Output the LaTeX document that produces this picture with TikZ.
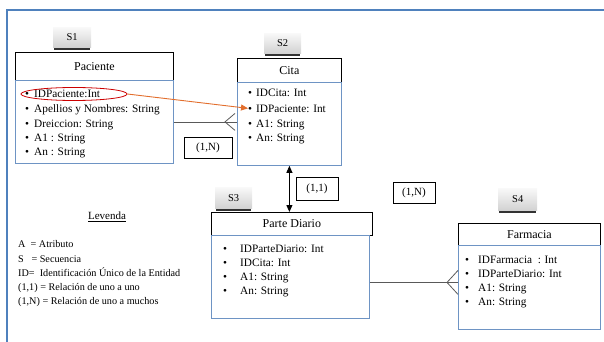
\documentclass[tikz,border=0pt]{standalone}
\usepackage{fontspec}
\setmainfont{Liberation Serif}
\usetikzlibrary{calc,shadows,arrows.meta,shapes.geometric}
\definecolor{framebl}{RGB}{79,129,189}
\definecolor{bodybl}{RGB}{110,148,196}
\definecolor{linkor}{RGB}{226,110,45}
\def\blt#1#2{\makebox[#1][l]{\textbullet}#2}

\tikzset{
  entity/.style={draw=black, line width=0.8pt, fill=white, anchor=north west, inner sep=0pt, font=\fontsize{12}{14}\selectfont},
  attrs/.style={draw=bodybl, line width=0.8pt, anchor=north west, inner sep=0pt},
  attr/.style={anchor=base west, inner sep=0pt, font=\fontsize{11.3}{13}\selectfont},
  seqtab/.style={anchor=north west, inner sep=0pt, top color=gray!5, bottom color=gray!35, font=\fontsize{10.5}{12}\selectfont,
    drop shadow={shadow xshift=0pt, shadow yshift=-3.5pt, shadow scale=0.95, fill=black!80, opacity=1}},
  card/.style={draw=black, line width=0.8pt, fill=white, inner sep=0pt, font=\fontsize{11}{13}\selectfont},
  link/.style={draw=black!65, line width=0.8pt},
  tip/.style={-{Triangle[length=7pt,width=6pt]}},
  legtxt/.style={anchor=base west, inner sep=0pt, font=\fontsize{10.2}{13}\selectfont},
}

\begin{document}
\begin{tikzpicture}[x=1pt,y=-1pt]
			\useasboundingbox (0,0) rectangle (604,342);
			
			\draw[framebl, line width=1.2pt] (7,10) rectangle (620,360);
			
			%%%%% Paciente %%%%%
			\node[seqtab, minimum width=38, minimum height=20] (s1) at (53,27) {S1};
			\node[entity, minimum width=158, minimum height=28] (pac) at (15,52) {Paciente};
			\node[attrs, minimum width=158, minimum height=83] (pacB) at (15,80) {};
			\node[attr] (pac1) at (25,98) {\blt{9pt}{IDPaciente:Int}};
			\node[attr] (pac2) at (25,113) {\blt{9pt}{Apellios y Nombres: String}};
			\node[attr] (pac3) at (25,127) {\blt{9pt}{Dreiccion: String}};
			\node[attr] (pac4) at (25,141) {\blt{9pt}{A1 : String}};
			\node[attr] (pac5) at (25,155) {\blt{9pt}{An : String}};
			\node[draw=red!80!black, line width=0.8pt, ellipse, minimum width=106, minimum height=13] (pacOval) at (74,94) {};
			
			%%%%% Cita %%%%%
			\node[seqtab, minimum width=37, minimum height=20] (s2) at (264,33) {S2};
			\node[entity, minimum width=104, minimum height=24] (cita) at (237,58) {Cita};
			\node[attrs, minimum width=104, minimum height=83] (citaB) at (237,82) {};
			\node[attr] (cita1) at (248,97) {\blt{8pt}{IDCita: Int}};
			\node[attr] (cita2) at (248,112) {\blt{8pt}{IDPaciente: Int}};
			\node[attr] (cita3) at (248,127) {\blt{8pt}{A1: String}};
			\node[attr] (cita4) at (248,141) {\blt{8pt}{An: String}};
			
			%%%%% Parte Diario %%%%%
			\node[seqtab, minimum width=37, minimum height=21] (s3) at (215,187) {S3};
			\node[entity, minimum width=161, minimum height=23] (par) at (211,212) {Parte Diario};
			\node[attrs, minimum width=158, minimum height=83] (parB) at (211,235) {};
			\node[attr] (par1) at (223,252) {\blt{17pt}{IDParteDiario: Int}};
			\node[attr] (par2) at (223,266) {\blt{17pt}{IDCita: Int}};
			\node[attr] (par3) at (223,280) {\blt{17pt}{A1: String}};
			\node[attr] (par4) at (223,294) {\blt{17pt}{An: String}};
			
			%%%%% Farmacia %%%%%
			\node[seqtab, minimum width=39, minimum height=22] (s4) at (498,188) {S4};
			\node[entity, minimum width=142, minimum height=22] (far) at (458,223) {Farmacia};
			\node[attrs, minimum width=142, minimum height=84] (farB) at (458,245) {};
			\node[attr] (far1) at (465,263) {\blt{13pt}{IDFarmacia \ : Int}};
			\node[attr] (far2) at (465,277) {\blt{13pt}{IDParteDiario: Int}};
			\node[attr] (far3) at (465,291) {\blt{13pt}{A1: String}};
			\node[attr] (far4) at (465,305) {\blt{13pt}{An: String}};
			
			%%%%% relaciones %%%%%
			\node[card, minimum width=48, minimum height=21] (c1) at (208,147.5) {(1,N)};
			\node[card, minimum width=42, minimum height=23] (c2) at (317,188.5) {(1,1)};
			\node[card, minimum width=42, minimum height=21] (c3) at (414,192.5) {(1,N)};
			
			\coordinate (cf1) at (pacB.east -| citaB.west);
			\draw[link] (pacB.east) -- (cf1);
			\draw[link] ($(cf1)+(-2,-8.5)$) -- ($(cf1)+(-12,0)$) -- ($(cf1)+(-2,8.5)$);
			
			\coordinate (cf2) at ($(farB.west)+(0,-5)$);
			\draw[link] (parB.east |- cf2) -- (cf2);
			\draw[link] ($(cf2)+(0,-12)$) -- ($(cf2)+(-11,0)$) -- ($(cf2)+(0,12)$);
			
			\draw[line width=0.9pt, {Triangle[length=7pt,width=6pt]}-{Triangle[length=7pt,width=6pt]}] (citaB.south) -- (citaB.south |- par.north);
			
			\draw[linkor, line width=0.9pt, tip] (pacOval.east) -- (cita2.west);
			
			%%%%% Levenda %%%%%
			\node[font=\fontsize{11}{13}\selectfont] (lev) at (107,217) {\underline{Levenda}};
			\node[legtxt] (ley1) at (18,247) {A \ = Atributo};
			\node[legtxt] (ley2) at (18,262) {S \ \ = Secuencia};
			\node[legtxt] (ley3) at (18,276) {ID= \ Identificación Único de la Entidad};
			\node[legtxt] (ley4) at (18,290) {(1,1) = Relación de uno a uno};
			\node[legtxt] (ley5) at (18,304) {(1,N) = Relación de uno a muchos};
			
		\end{tikzpicture}
\end{document}
